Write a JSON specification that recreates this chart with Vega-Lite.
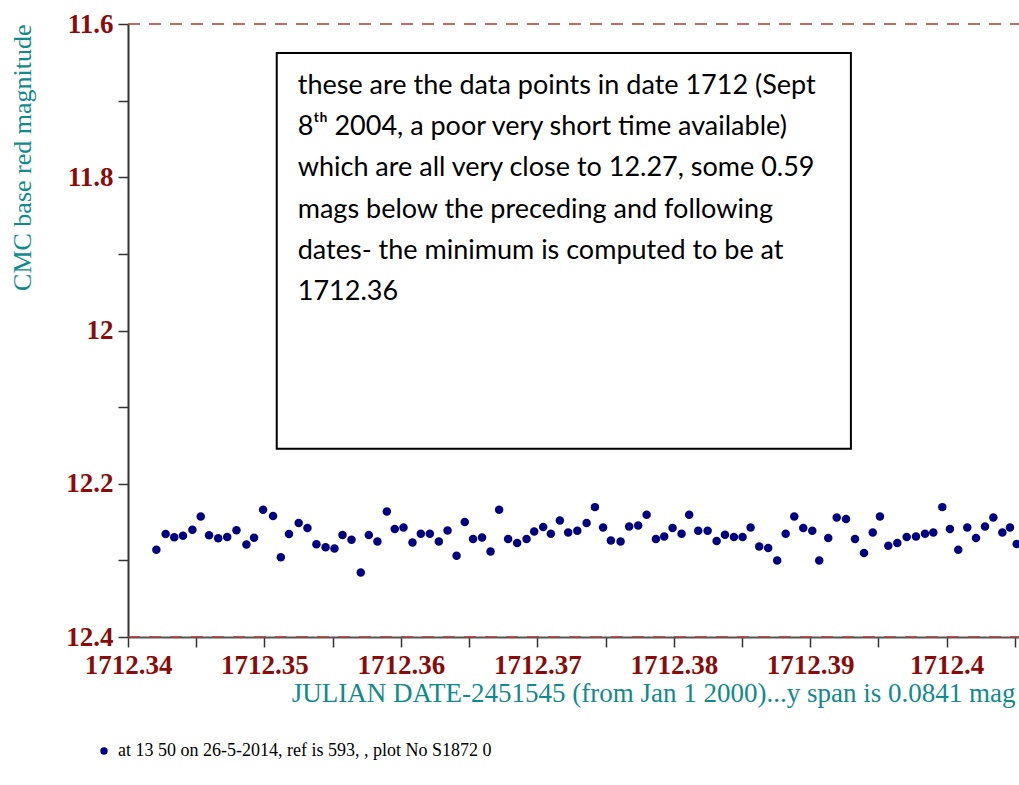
{
  "$schema": "https://vega.github.io/schema/vega-lite/v6.json",
  "width": 891,
  "height": 613,
  "autosize": {"type": "none"},
  "padding": {"left": 128, "top": 24, "right": 0, "bottom": 148},
  "background": "white",
  "config": {"view": {"stroke": null}},
  "datasets": {
    "points": [
      {"jd": 1712.34208, "mag": 12.2862}, {"jd": 1712.34276, "mag": 12.2657}, {"jd": 1712.34339, "mag": 12.2698},
      {"jd": 1712.34403, "mag": 12.2679}, {"jd": 1712.34472, "mag": 12.2601}, {"jd": 1712.34533, "mag": 12.2427},
      {"jd": 1712.34594, "mag": 12.2672}, {"jd": 1712.34661, "mag": 12.2711}, {"jd": 1712.34727, "mag": 12.2694},
      {"jd": 1712.34795, "mag": 12.2607}, {"jd": 1712.34868, "mag": 12.2792}, {"jd": 1712.34924, "mag": 12.2705},
      {"jd": 1712.3499, "mag": 12.234}, {"jd": 1712.35063, "mag": 12.2422}, {"jd": 1712.3512, "mag": 12.2959},
      {"jd": 1712.3518, "mag": 12.2655}, {"jd": 1712.35251, "mag": 12.2513}, {"jd": 1712.35315, "mag": 12.2578},
      {"jd": 1712.35381, "mag": 12.279}, {"jd": 1712.35448, "mag": 12.2829}, {"jd": 1712.35513, "mag": 12.2846},
      {"jd": 1712.35572, "mag": 12.267}, {"jd": 1712.35638, "mag": 12.2731}, {"jd": 1712.35706, "mag": 12.3158},
      {"jd": 1712.35765, "mag": 12.267}, {"jd": 1712.35828, "mag": 12.2753}, {"jd": 1712.35897, "mag": 12.2362},
      {"jd": 1712.35955, "mag": 12.2592}, {"jd": 1712.36019, "mag": 12.2571}, {"jd": 1712.36085, "mag": 12.2766},
      {"jd": 1712.36146, "mag": 12.2653}, {"jd": 1712.36212, "mag": 12.2653}, {"jd": 1712.36278, "mag": 12.2753},
      {"jd": 1712.36342, "mag": 12.261}, {"jd": 1712.36408, "mag": 12.294}, {"jd": 1712.36468, "mag": 12.25},
      {"jd": 1712.36529, "mag": 12.2722}, {"jd": 1712.36595, "mag": 12.2701}, {"jd": 1712.36657, "mag": 12.2884},
      {"jd": 1712.3672, "mag": 12.234}, {"jd": 1712.36786, "mag": 12.2722}, {"jd": 1712.36852, "mag": 12.2774},
      {"jd": 1712.36921, "mag": 12.2722}, {"jd": 1712.36977, "mag": 12.2623}, {"jd": 1712.37043, "mag": 12.2565},
      {"jd": 1712.37099, "mag": 12.2653}, {"jd": 1712.37165, "mag": 12.2479}, {"jd": 1712.37226, "mag": 12.2636},
      {"jd": 1712.37293, "mag": 12.2614}, {"jd": 1712.37361, "mag": 12.2513}, {"jd": 1712.37422, "mag": 12.2305},
      {"jd": 1712.37482, "mag": 12.2571}, {"jd": 1712.37539, "mag": 12.274}, {"jd": 1712.3761, "mag": 12.2753},
      {"jd": 1712.37673, "mag": 12.2558}, {"jd": 1712.37739, "mag": 12.2544}, {"jd": 1712.37801, "mag": 12.2405},
      {"jd": 1712.37869, "mag": 12.2722}, {"jd": 1712.3793, "mag": 12.2688}, {"jd": 1712.37991, "mag": 12.2578},
      {"jd": 1712.38057, "mag": 12.2653}, {"jd": 1712.38113, "mag": 12.2405}, {"jd": 1712.38179, "mag": 12.2614},
      {"jd": 1712.38248, "mag": 12.2614}, {"jd": 1712.38314, "mag": 12.2747}, {"jd": 1712.38375, "mag": 12.2666},
      {"jd": 1712.38441, "mag": 12.2696}, {"jd": 1712.38504, "mag": 12.2696}, {"jd": 1712.38563, "mag": 12.2571},
      {"jd": 1712.38626, "mag": 12.2818}, {"jd": 1712.38692, "mag": 12.2839}, {"jd": 1712.38758, "mag": 12.3001},
      {"jd": 1712.3882, "mag": 12.2653}, {"jd": 1712.38883, "mag": 12.2427}, {"jd": 1712.38949, "mag": 12.2578},
      {"jd": 1712.39015, "mag": 12.2614}, {"jd": 1712.39066, "mag": 12.3001}, {"jd": 1712.39132, "mag": 12.2709},
      {"jd": 1712.39194, "mag": 12.244}, {"jd": 1712.39262, "mag": 12.2461}, {"jd": 1712.39328, "mag": 12.2722},
      {"jd": 1712.39394, "mag": 12.2905}, {"jd": 1712.39458, "mag": 12.2636}, {"jd": 1712.39511, "mag": 12.2427},
      {"jd": 1712.39572, "mag": 12.2809}, {"jd": 1712.39638, "mag": 12.2774}, {"jd": 1712.39707, "mag": 12.2696},
      {"jd": 1712.39775, "mag": 12.2688}, {"jd": 1712.39841, "mag": 12.2653}, {"jd": 1712.39902, "mag": 12.2636},
      {"jd": 1712.39968, "mag": 12.2305}, {"jd": 1712.40024, "mag": 12.2592}, {"jd": 1712.40085, "mag": 12.2862},
      {"jd": 1712.40151, "mag": 12.2571}, {"jd": 1712.40215, "mag": 12.2709}, {"jd": 1712.40281, "mag": 12.2558},
      {"jd": 1712.40342, "mag": 12.244}, {"jd": 1712.40408, "mag": 12.2636}, {"jd": 1712.40464, "mag": 12.2571},
      {"jd": 1712.40513, "mag": 12.2787}
    ],
    "limits": [{"jd": 1712.34, "jd2": 1712.4053, "mag": 11.6}, {"jd": 1712.34, "jd2": 1712.4053, "mag": 12.4}],
    "box": [{"jd": 1712.3509, "jd2": 1712.39298, "mag": 11.6378, "mag2": 12.1544}],
    "note": [{"jd": 1712.35244, "mag": 11.6913, "text": "these are the data points in date 1712 (Sept\n8ᵗʰ 2004, a poor very short time available)\nwhich are all very close to 12.27, some 0.59\nmags below the preceding and following\ndates- the minimum is computed to be at\n1712.36"}]
  },
  "encoding": {
    "x": {
      "field": "jd", "type": "quantitative",
      "scale": {"domain": [1712.34, 1712.4053], "nice": false, "zero": false},
      "axis": {
        "title": "JULIAN DATE-2451545 (from Jan 1 2000)...y span is 0.0841 mag",
        "values": [1712.34, 1712.345, 1712.35, 1712.355, 1712.36, 1712.365, 1712.37, 1712.375, 1712.38, 1712.385, 1712.39, 1712.395, 1712.4, 1712.405],
        "labelExpr": "round(datum.value*200) % 2 == 0 ? format(datum.value, '~f') : ''",
        "grid": false, "domainColor": "#555555", "domainWidth": 2,
        "tickColor": "#333333", "tickWidth": 1.5, "tickSize": 10,
        "labelFont": "Liberation Serif", "labelFontWeight": "bold", "labelFontSize": 27, "labelColor": "#8B0A0A",
        "labelPadding": 5, "labelFlush": false, "labelOverlap": false,
        "titleFont": "Liberation Serif", "titleFontWeight": "normal", "titleFontSize": 27, "titleColor": "#108A8A",
        "titleAnchor": "end", "titlePadding": 2, "titleX": 887
      }
    },
    "y": {
      "field": "mag", "type": "quantitative",
      "scale": {"domain": [11.6, 12.4], "reverse": true, "nice": false, "zero": false},
      "axis": {
        "title": "CMC base red magnitude",
        "values": [11.6, 11.7, 11.8, 11.9, 12, 12.1, 12.2, 12.3, 12.4],
        "labelExpr": "round(datum.value*10) % 2 == 0 ? format(datum.value, '~f') : ''",
        "grid": false, "domainColor": "#333333", "domainWidth": 2,
        "tickColor": "#333333", "tickWidth": 1.5, "tickSize": 10,
        "labelFont": "Liberation Serif", "labelFontWeight": "bold", "labelFontSize": 27, "labelColor": "#8B0A0A",
        "labelPadding": 5, "labelFlush": false, "labelOverlap": false,
        "titleFont": "Liberation Serif", "titleFontWeight": "normal", "titleFontSize": 26, "titleColor": "#108A8A",
        "titleAnchor": "start", "titleAlign": "right", "titlePadding": 30
      }
    }
  },
  "layer": [
    {
      "data": {"name": "limits"},
      "mark": {"type": "rule", "color": "#A83C3C", "strokeWidth": 1.5, "strokeDash": [12, 9]},
      "encoding": {
        "x2": {"field": "jd2"}
      }
    },
    {
      "data": {"name": "box"},
      "mark": {"type": "rect", "fill": "white", "stroke": "black", "strokeWidth": 2},
      "encoding": {
        "x2": {"field": "jd2"},
        "y2": {"field": "mag2"}
      }
    },
    {
      "data": {"name": "note"},
      "mark": {"type": "text", "align": "left", "baseline": "alphabetic", "font": "Lato", "fontSize": 27, "lineHeight": 41.2, "lineBreak": "\n", "color": "black"},
      "encoding": {
        "text": {"field": "text", "type": "nominal"}
      }
    },
    {
      "data": {"name": "points"},
      "mark": {"type": "point", "filled": true, "shape": "circle", "size": 72, "opacity": 1},
      "encoding": {
        "color": {
          "datum": "at 13 50 on 26-5-2014, ref is 593, ,  plot No S1872 0",
          "type": "nominal",
          "scale": {"range": ["#000080"]},
          "legend": {
            "title": null, "orient": "none", "legendX": -33, "legendY": 718,
            "padding": 0, "symbolType": "circle", "symbolSize": 55, "labelOffset": 5,
            "labelFont": "Liberation Serif", "labelFontSize": 18, "labelColor": "black", "labelLimit": 800
          }
        }
      }
    }
  ]
}
